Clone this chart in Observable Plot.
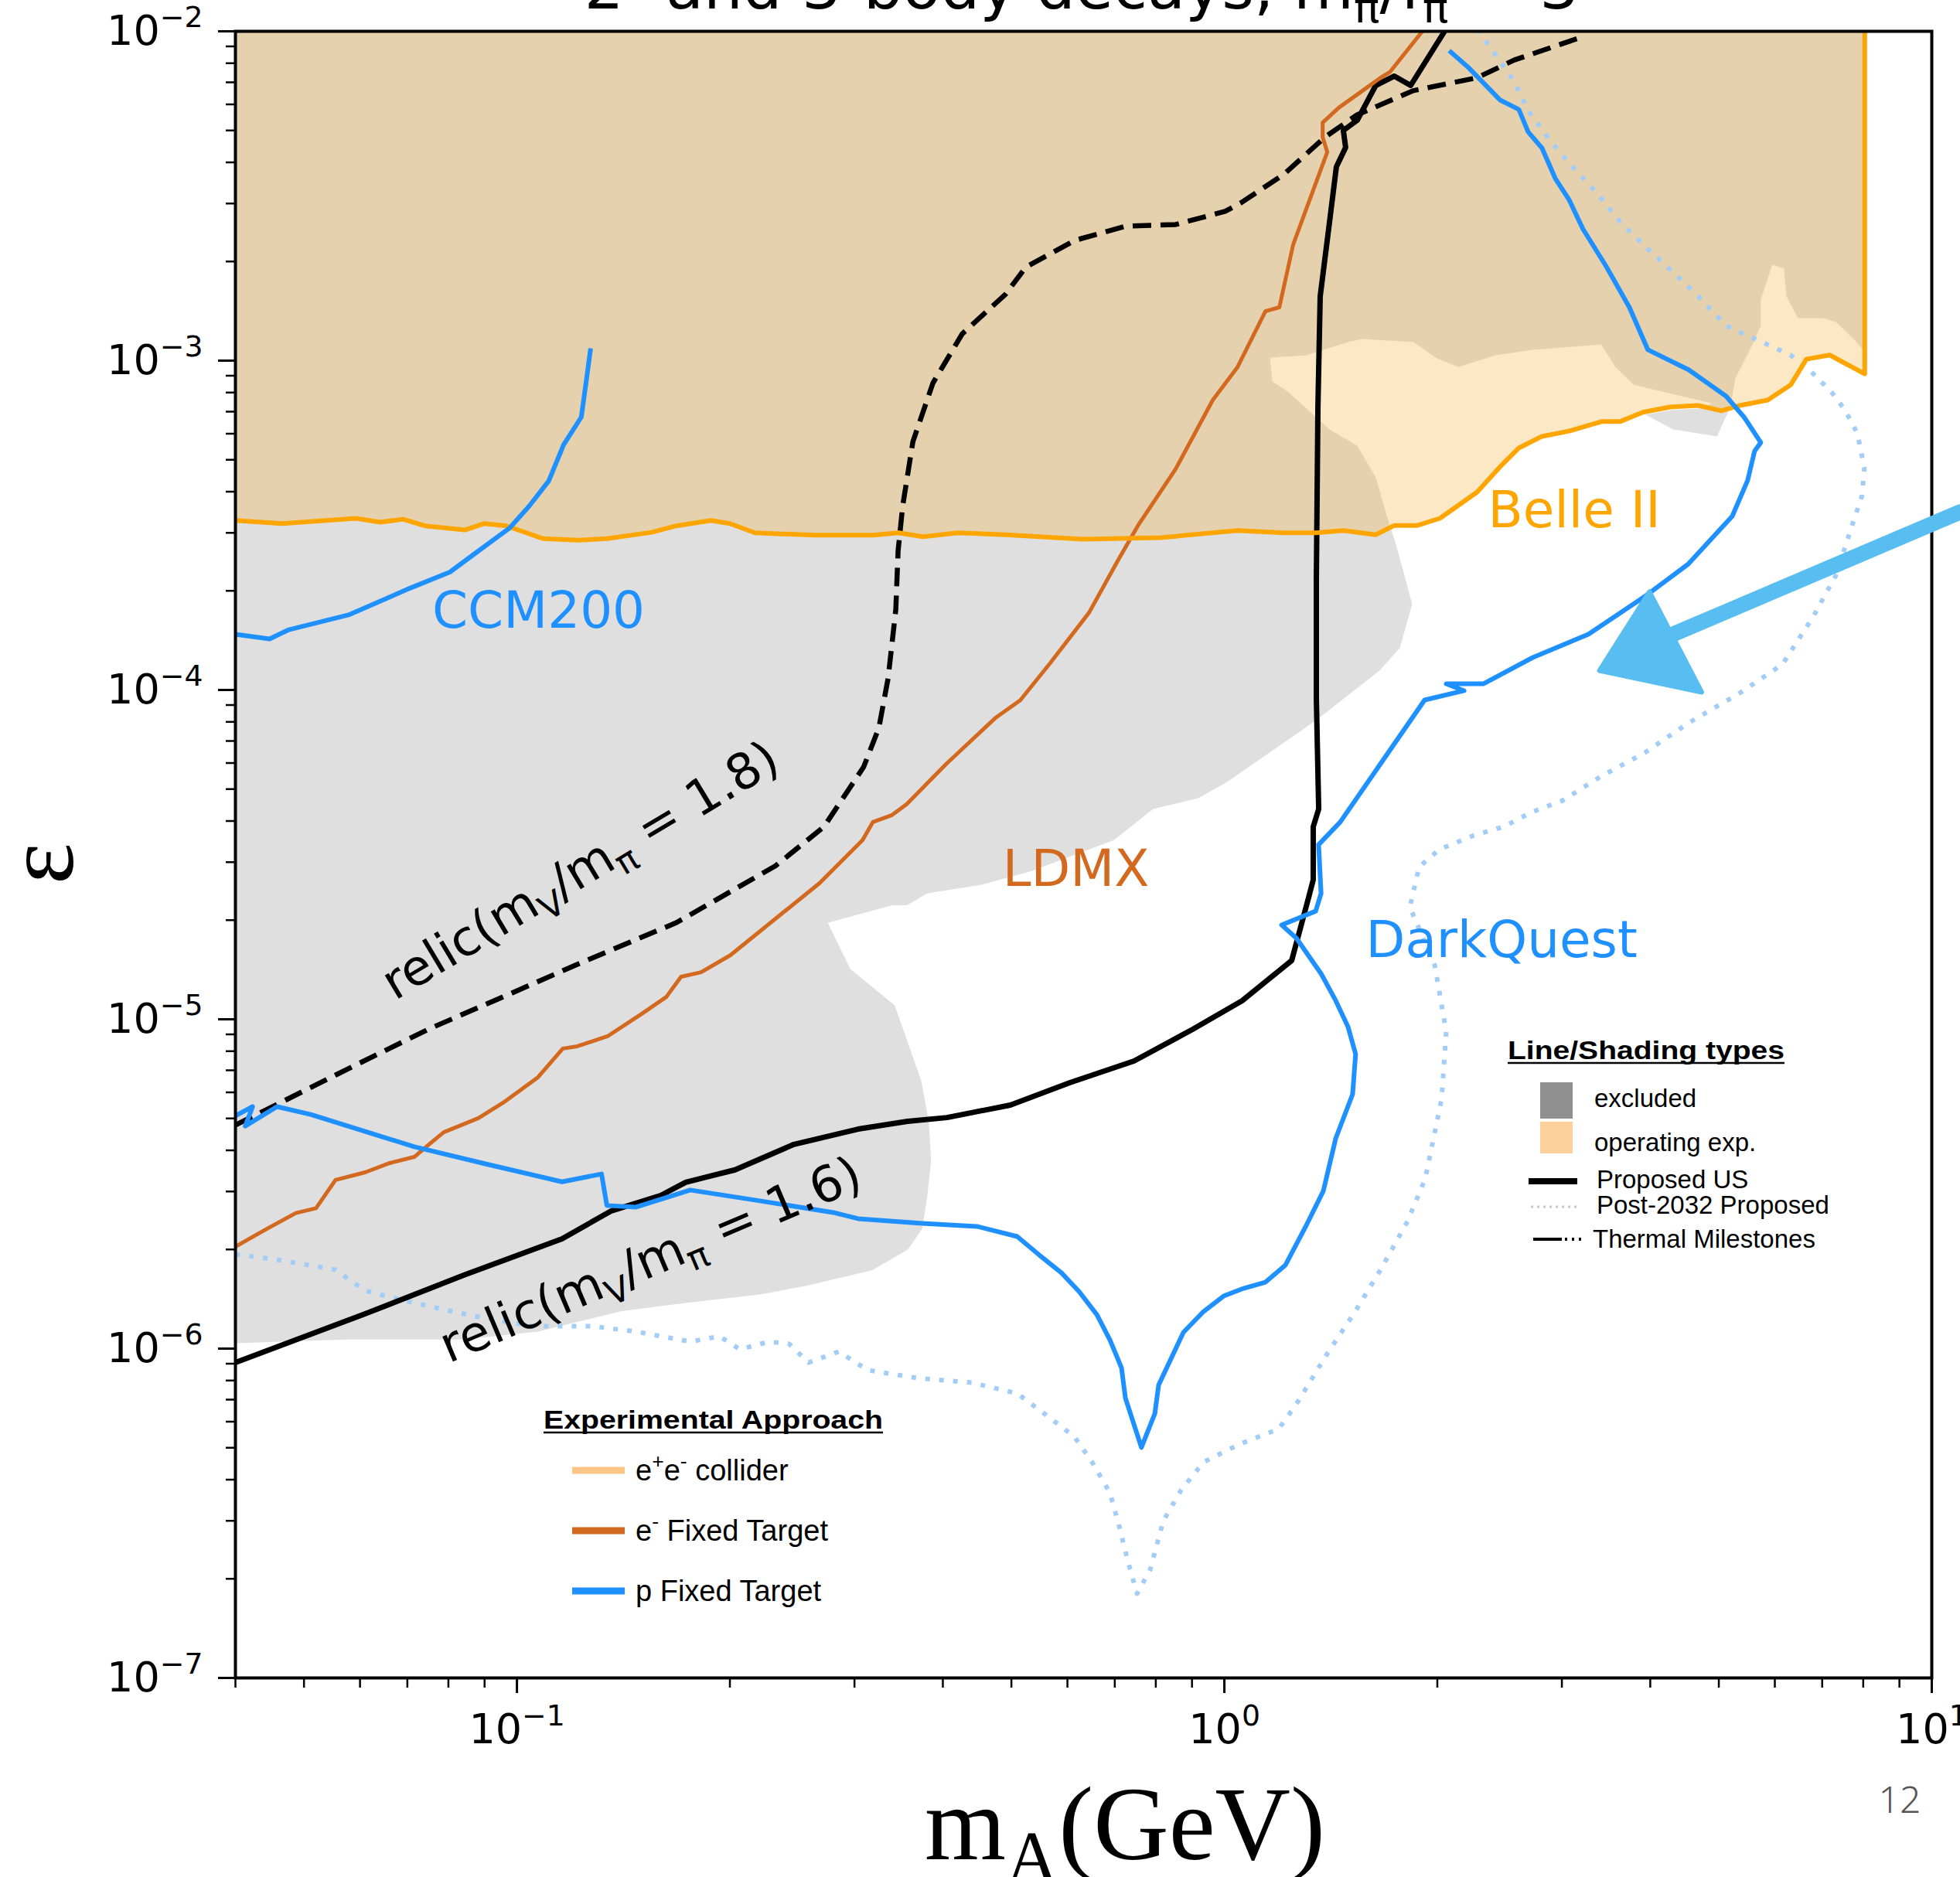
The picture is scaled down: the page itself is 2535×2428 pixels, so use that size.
<!DOCTYPE html>
<html>
<head>
<meta charset="utf-8">
<script src="https://cdn.jsdelivr.net/npm/d3@7"></script>
<script src="https://cdn.jsdelivr.net/npm/@observablehq/plot@0.6"></script>
<style>
  html, body { margin: 0; padding: 0; background: #fff; overflow: hidden; }
  #wrap { position: relative; width: 2535px; height: 2428px; overflow: hidden; background: #fff; }
  #wrap > svg { position: absolute; left: 0; top: 0; }
</style>
</head>
<body>
<div id="wrap"></div>
<script>
// ---------------- DATA (m_A in GeV, epsilon) ----------------
const xDomain = [0.04, 10];
const yDomain = [1e-7, 1e-2];
const xMajor = [0.1, 1, 10];
const xMajorExp = ["−1", "0", "1"];
const xMinor = [0.04,0.05,0.06,0.07,0.08,0.09,0.2,0.3,0.4,0.5,0.6,0.7,0.8,0.9,2,3,4,5,6,7,8,9];
const yMajor = [1e-7, 1e-6, 1e-5, 1e-4, 1e-3, 1e-2];
const yMajorExp = ["−7", "−6", "−5", "−4", "−3", "−2"];
const yMinor = [2e-7,3e-7,4e-7,5e-7,6e-7,7e-7,8e-7,9e-7,2e-6,3e-6,4e-6,5e-6,6e-6,7e-6,8e-6,9e-6,
  2e-5,3e-5,4e-5,5e-5,6e-5,7e-5,8e-5,9e-5,2e-4,3e-4,4e-4,5e-4,6e-4,7e-4,8e-4,9e-4,
  2e-3,3e-3,4e-3,5e-3,6e-3,7e-3,8e-3,9e-3];

// excluded (grey) region outline
const grayM = [0.04,8.03,8.03,7.79,7.33,7.01,6.47,6.23,6.18,5.95,5.73,5.73,5.52,5.28,5.19,4.97,4.31,3.94,4.27,4.68,4.89,3.79,3.57,3.41,2.73,2.42,2.14,1.99,1.85,1.565,1.496,1.306,1.16,1.169,1.232,1.408,1.541,1.637,1.713,1.744,1.843,1.77,1.658,1.349,1.01,0.918,0.793,0.698,0.532,0.453,0.38,0.356,0.339,0.275,0.296,0.342,0.373,0.382,0.385,0.38,0.374,0.357,0.318,0.258,0.2205,0.173,0.1405,0.1071,0.0841,0.0573,0.04];
const grayE = [1e-2,1e-2,1.067e-3,1.151e-3,1.309e-3,1.346e-3,1.346e-3,1.567e-3,1.903e-3,1.954e-3,1.531e-3,1.276e-3,1.067e-3,8.87e-4,7.22e-4,5.89e-4,6.18e-4,6.85e-4,7.08e-4,7.15e-4,7.42e-4,8.45e-4,9.57e-4,1.12e-3,1.078e-3,1.038e-3,9.57e-4,1.021e-3,1.138e-3,1.164e-3,1.138e-3,1.038e-3,1.021e-3,8.65e-4,8.02e-4,6.18e-4,5.52e-4,4.42e-4,3.16e-4,2.82e-4,1.823e-4,1.34e-4,1.146e-4,8.1e-5,5.26e-5,4.69e-5,4.35e-5,3.5e-5,2.81e-5,2.56e-5,2.41e-5,2.22e-5,2.22e-5,1.963e-5,1.421e-5,1.102e-5,6.49e-6,4.9e-6,3.74e-6,2.87e-6,2.31e-6,2.0e-6,1.73e-6,1.556e-6,1.459e-6,1.375e-6,1.3e-6,1.126e-6,1.066e-6,1.066e-6,1.038e-6];

// Belle II (e+e- collider, operating)
const belleM = [0.04,0.0466,0.0592,0.0641,0.069,0.0741,0.0844,0.0898,0.0966,0.109,0.122,0.134,0.155,0.168,0.188,0.2,0.217,0.264,0.319,0.346,0.375,0.42,0.491,0.631,0.812,1.044,1.214,1.346,1.473,1.637,1.739,1.875,2.017,2.277,2.455,2.608,2.812,3.07,3.412,3.624,3.906,4.266,4.675,5.041,5.355,5.863,6.32,6.649,7.172,8.04,8.04];
const belleE = [3.27e-4,3.2e-4,3.32e-4,3.23e-4,3.3e-4,3.15e-4,3.06e-4,3.2e-4,3.15e-4,2.88e-4,2.85e-4,2.88e-4,3.01e-4,3.15e-4,3.27e-4,3.2e-4,3.0e-4,2.95e-4,2.95e-4,3.0e-4,2.92e-4,3.0e-4,2.96e-4,2.87e-4,2.9e-4,3.05e-4,3.0e-4,3.0e-4,3.05e-4,2.96e-4,3.16e-4,3.16e-4,3.32e-4,3.99e-4,4.77e-4,5.43e-4,5.89e-4,6.11e-4,6.53e-4,6.53e-4,6.97e-4,7.23e-4,7.31e-4,7.04e-4,7.31e-4,7.59e-4,8.45e-4,1.01e-3,1.04e-3,9.12e-4,1e-2];

// LDMX (e- fixed target)
const ldmxM = [0.04,0.0443,0.0487,0.052,0.0554,0.061,0.0661,0.0716,0.0751,0.0788,0.0882,0.0956,0.1071,0.1161,0.1217,0.1343,0.15,0.1626,0.1706,0.1821,0.2004,0.2677,0.308,0.3185,0.339,0.3556,0.4044,0.4749,0.5147,0.5664,0.6439,0.7084,0.7545,0.8534,0.963,1.044,1.143,1.196,1.251,1.326,1.398,1.377,1.377,1.451,1.663,1.713,1.905];
const ldmxE = [2.04e-6,2.31e-6,2.58e-6,2.67e-6,3.25e-6,3.43e-6,3.66e-6,3.82e-6,4.17e-6,4.54e-6,5.01e-6,5.58e-6,6.67e-6,8.15e-6,8.28e-6,8.88e-6,1.038e-5,1.169e-5,1.346e-5,1.39e-5,1.566e-5,2.59e-5,3.5e-5,3.97e-5,4.17e-5,4.5e-5,5.96e-5,8.23e-5,9.31e-5,1.202e-4,1.718e-4,2.49e-4,3.15e-4,4.69e-4,7.59e-4,9.57e-4,1.412e-3,1.452e-3,2.25e-3,3.16e-3,4.3e-3,4.77e-3,5.28e-3,5.86e-3,7.23e-3,7.51e-3,1e-2];

// relic (m_V/m_pi = 1.8), dashed
const relic18M = [0.04,0.0583,0.0753,0.0973,0.1217,0.168,0.2318,0.2716,0.309,0.3248,0.3347,0.3432,0.3458,0.351,0.3628,0.3873,0.4263,0.4906,0.524,0.6154,0.7249,0.8534,1.0025,1.0596,1.2137,1.387,1.541,1.848,2.277,2.569,3.19];
const relic18E = [4.77e-6,7.15e-6,9.37e-6,1.189e-5,1.468e-5,1.965e-5,2.92e-5,3.84e-5,5.83e-5,7.67e-5,1.084e-4,1.754e-4,2.65e-4,3.62e-4,5.67e-4,8.55e-4,1.208e-3,1.591e-3,1.923e-3,2.32e-3,2.56e-3,2.59e-3,2.84e-3,3.03e-3,3.68e-3,4.77e-3,5.58e-3,6.6e-3,7.23e-3,8.18e-3,9.58e-3];

// relic (m_V/m_pi = 1.6), solid black
const relic16M = [0.04,0.061,0.0841,0.1158,0.136,0.1598,0.1732,0.2034,0.2463,0.3035,0.3565,0.4054,0.4982,0.6047,0.7451,0.902,1.0596,1.245,1.3154,1.3354,1.3354,1.3594,1.349,1.349,1.356,1.366,1.408,1.44,1.484,1.473,1.541,1.637,1.739,1.834,2.048];
const relic16E = [9.07e-7,1.275e-6,1.671e-6,2.155e-6,2.62e-6,2.92e-6,3.2e-6,3.49e-6,4.17e-6,4.64e-6,4.9e-6,5.03e-6,5.49e-6,6.42e-6,7.47e-6,9.32e-6,1.139e-5,1.508e-5,2.34e-5,2.65e-5,3.84e-5,4.35e-5,9.47e-5,2.154e-4,7.23e-4,1.566e-3,2.63e-3,3.88e-3,4.44e-3,5.0e-3,5.37e-3,6.85e-3,7.31e-3,6.85e-3,1e-2];

// CCM200 (p fixed target)
const ccmM = [0.04,0.0447,0.0476,0.0578,0.0707,0.0804,0.0873,0.0976,0.1041,0.1109,0.1164,0.1233,0.1252,0.1271];
const ccmE = [1.476e-4,1.429e-4,1.524e-4,1.69e-4,2.04e-4,2.28e-4,2.6e-4,3.1e-4,3.62e-4,4.31e-4,5.55e-4,6.74e-4,8.55e-4,1.09e-3];

// DarkQuest (p fixed target)
const dqM = [0.04,0.0423,0.0413,0.0458,0.0511,0.0563,0.0716,0.0912,0.1158,0.1317,0.134,0.1474,0.1758,0.2205,0.28,0.3035,0.3739,0.4471,0.5095,0.5481,0.5883,0.6233,0.6604,0.6893,0.7155,0.7246,0.7634,0.7975,0.8075,0.8752,0.9344,0.9975,1.065,1.143,1.22,1.302,1.38,1.437,1.518,1.533,1.496,1.437,1.37,1.264,1.205,1.346,1.37,1.359,1.458,1.919,2.182,2.059,2.323,2.729,3.27,3.93,4.525,5.223,5.492,5.617,5.731,5.436,5.119,4.536,3.969,3.737,3.465,3.213,3.071,2.935,2.812,2.688,2.608,2.455,2.208,2.079];
const dqE = [5.09e-6,5.43e-6,4.74e-6,5.43e-6,5.14e-6,4.82e-6,4.1e-6,3.62e-6,3.21e-6,3.39e-6,2.72e-6,2.69e-6,3.03e-6,2.81e-6,2.59e-6,2.48e-6,2.4e-6,2.35e-6,2.19e-6,1.92e-6,1.7e-6,1.49e-6,1.268e-6,1.061e-6,8.74e-7,7.08e-7,5.01e-7,6.35e-7,7.76e-7,1.12e-6,1.296e-6,1.444e-6,1.524e-6,1.591e-6,1.793e-6,2.34e-6,3.01e-6,4.35e-6,5.92e-6,7.84e-6,9.47e-6,1.139e-5,1.376e-5,1.764e-5,1.934e-5,2.13e-5,2.41e-5,3.39e-5,3.97e-5,9.32e-5,9.95e-5,1.044e-4,1.044e-4,1.255e-4,1.476e-4,1.923e-4,2.41e-4,3.37e-4,4.33e-4,5.31e-4,5.64e-4,6.71e-4,7.8e-4,9.37e-4,1.079e-3,1.452e-3,1.934e-3,2.51e-3,3.08e-3,3.58e-3,4.42e-3,4.95e-3,5.79e-3,6.18e-3,7.8e-3,8.74e-3];

// Post-2032 proposed (dotted light blue)
const postM = [0.04,0.0458,0.0554,0.061,0.0693,0.0869,0.1052,0.1277,0.1474,0.1758,0.1934,0.2065,0.2273,0.2426,0.2584,0.285,0.3134,0.3683,0.4392,0.5095,0.5635,0.6138,0.6503,0.6893,0.7103,0.7302,0.7526,0.7853,0.8197,0.8687,0.9344,1.049,1.193,1.264,1.401,1.526,1.663,1.816,1.923,2.028,2.059,1.983,1.829,1.885,2.013,2.254,2.48,2.722,3.009,3.404,3.93,4.525,5.33,6.15,6.8,7.32,7.69,7.97,8.03,7.85,7.54,7.22,6.8,6.32,5.69,5.12,4.68,4.22,3.91,3.63,3.36,3.07,2.89,2.69,2.57,2.31,2.29];
const postE = [1.934e-6,1.862e-6,1.736e-6,1.5e-6,1.398e-6,1.255e-6,1.17e-6,1.17e-6,1.126e-6,1.05e-6,1.09e-6,9.95e-7,1.05e-6,1.033e-6,9.07e-7,9.79e-7,8.6e-7,8.14e-7,7.88e-7,7.31e-7,6.22e-7,5.4e-7,4.52e-7,3.64e-7,2.88e-7,2.27e-7,1.803e-7,2.13e-7,3.0e-7,3.72e-7,4.52e-7,5.12e-7,5.7e-7,6.78e-7,9.73e-7,1.282e-6,1.736e-6,2.44e-6,3.28e-6,5.73e-6,9.17e-6,1.46e-5,2.19e-5,2.9e-5,3.28e-5,3.62e-5,3.84e-5,4.26e-5,4.62e-5,5.46e-5,6.45e-5,7.93e-5,9.73e-5,1.196e-4,1.671e-4,2.23e-4,3.09e-4,3.9e-4,4.72e-4,6.01e-4,7.08e-4,8.01e-4,9.12e-4,1.038e-3,1.151e-3,1.275e-3,1.566e-3,1.934e-3,2.25e-3,2.63e-3,3.23e-3,3.99e-3,4.64e-3,5.73e-3,7.04e-3,9.73e-3,1e-2];

// hand-drawn arrow annotation
const arrowShaftM = [10.97, 4.06];
const arrowShaftE = [3.47e-4, 1.398e-4];
const arrowHeadM = [3.99, 3.39, 4.73, 3.99];
const arrowHeadE = [1.987e-4, 1.145e-4, 9.84e-5, 1.987e-4];

// in-plot labels
const labelText = ["CCM200", "Belle II", "LDMX", "DarkQuest"];
const labelM = [0.0759, 2.359, 0.4858, 1.585];
const labelE = [1.736e-4, 3.5e-4, 2.854e-5, 1.736e-5];
const labelColor = ["#1e90ff", "#ffa500", "#d2691e", "#1e90ff"];

const relicParts = [
  [{t:"relic(m"},{t:"V",sub:1},{t:"/m"},{t:"π",sub:1},{t:" = 1.8)"}],
  [{t:"relic(m"},{t:"V",sub:1},{t:"/m"},{t:"π",sub:1},{t:" = 1.6)"}]
];
const relicM = [0.123, 0.1546];
const relicE = [2.823e-5, 1.852e-6];
const relicAngle = [-31, -23];

const titleParts = [{t:"2- and 3-body decays, m"},{t:"π",sub:1},{t:"/f"},{t:"π",sub:1},{t:" = 3"}];
const xLabelParts = [{t:"m"},{t:"A",sub:1},{t:"(GeV)"}];
const yLabelText = "ε";
const shadeLegendTitle = "Line/Shading types";
const shadeLegendLabels = ["excluded", "operating exp."];
const lineLegendLabels = ["Proposed US", "Post-2032 Proposed", "Thermal Milestones"];
const expLegendTitle = "Experimental Approach";
const expLegendLabels = [
  [{t:"e"},{t:"+",sup:1},{t:"e"},{t:"-",sup:1},{t:" collider"}],
  [{t:"e"},{t:"-",sup:1},{t:" Fixed Target"}],
  [{t:"p Fixed Target"}]
];
const expLegendColors = ["#fdc585", "#d2691e", "#1e90ff"];
const pageNumber = "12";

// ---------------- BUILD ----------------
const pts = (ms, es) => ms.map((m, i) => ({m, e: es[i]}));
const grayPoly = pts(grayM, grayE);
const belle = pts(belleM, belleE);
const bellePoly = belle.concat([{m: xDomain[0], e: yDomain[1]}]);

const L = (data, o) => Plot.line(data, {x: "m", y: "e", clip: true, strokeLinejoin: "round", strokeLinecap: "butt", ...o});

const marks = [
  L(grayPoly, {fill: "#dfdfdf", stroke: "none"}),
  L(bellePoly, {fill: "#f8b13a", fillOpacity: 0.29, stroke: "none"}),
  L(pts(postM, postE), {stroke: "#a3cdf6", strokeWidth: 6, strokeDasharray: "6,12"}),
  L(pts(relic16M, relic16E), {stroke: "#000", strokeWidth: 7}),
  L(pts(relic18M, relic18E), {stroke: "#000", strokeWidth: 6.5, strokeDasharray: "24,12"}),
  L(pts(ldmxM, ldmxE), {stroke: "#d2691e", strokeWidth: 5}),
  L(belle, {stroke: "#ffa500", strokeWidth: 6}),
  L(pts(ccmM, ccmE), {stroke: "#1e90ff", strokeWidth: 6}),
  L(pts(dqM, dqE), {stroke: "#1e90ff", strokeWidth: 6}),
];
labelText.forEach((t, i) => {
  marks.push(Plot.text([{m: labelM[i], e: labelE[i], t}], {x: "m", y: "e", text: "t", fill: labelColor[i], fontSize: 66, textAnchor: "start", lineAnchor: "middle"}));
});
const relicJoined = relicParts.map(p => p.map(q => q.t).join(""));
relicJoined.forEach((t, i) => {
  marks.push(Plot.text([{m: relicM[i], e: relicE[i], t}], {x: "m", y: "e", text: "t", fill: "#000", fontSize: 64, rotate: relicAngle[i], textAnchor: "middle", lineAnchor: "middle"}));
});
marks.push(
  Plot.frame({stroke: "#000", strokeWidth: 4}),
  Plot.axisX({ticks: xMajor, tickFormat: d => "10^" + xMajorExp[xMajor.indexOf(d)], tickSize: 20, tickPadding: 26, strokeWidth: 3, fontSize: 54, label: null}),
  Plot.axisX({ticks: xMinor, tickFormat: () => "", tickSize: 13, strokeWidth: 2.5, label: null}),
  Plot.axisY({ticks: yMajor, tickFormat: d => "10^" + yMajorExp[yMajor.indexOf(d)], tickSize: 22, tickPadding: 20, strokeWidth: 3, fontSize: 54, label: null}),
  Plot.axisY({ticks: yMinor, tickFormat: () => "", tickSize: 12, strokeWidth: 2.5, label: null}),
  Plot.line(pts(arrowShaftM, arrowShaftE), {x: "m", y: "e", stroke: "#58bdf0", strokeWidth: 20, strokeLinecap: "round"}),
  Plot.line(pts(arrowHeadM, arrowHeadE), {x: "m", y: "e", fill: "#58bdf0", stroke: "#58bdf0", strokeWidth: 6, strokeLinejoin: "round"})
);

const W = 2535, H = 2428;
const chart = Plot.plot({
  width: W, height: H,
  marginLeft: 304, marginRight: 37, marginTop: 40, marginBottom: 258,
  style: {fontFamily: "DejaVu Sans", fontSize: "54px", background: "#fff", overflow: "visible", color: "#000"},
  x: {type: "log", domain: xDomain},
  y: {type: "log", domain: yDomain},
  marks
});
document.getElementById("wrap").appendChild(chart);

// rich text helper (sub/superscripts)
function mathText(sel, parts, fs) {
  sel.text(null);
  let shift = 0;
  parts.forEach(p => {
    const ts = sel.append("tspan").text(p.t);
    const target = p.sub ? 0.22 * fs : p.sup ? -0.42 * fs : 0;
    const dy = target - shift;
    if (dy !== 0) ts.attr("dy", dy);
    if (p.sub || p.sup) ts.attr("font-size", 0.7 * fs);
    shift = target;
  });
}

// tick labels with superscripts, relic labels with subscripts
d3.select(chart).selectAll("text").each(function() {
  const s = this.textContent;
  const sel = d3.select(this);
  if (s.startsWith("10^")) {
    mathText(sel, [{t: "10"}, {t: s.slice(3), sup: 1}], 54);
  } else {
    const k = relicJoined.indexOf(s);
    if (k >= 0) mathText(sel, relicParts[k], 64);
  }
});

// ---------------- OVERLAY (title, axis labels, legends) ----------------
const ov = d3.select("#wrap").append("svg").attr("width", W).attr("height", H);

mathText(ov.append("text").attr("x", 1399).attr("y", 11).attr("text-anchor", "middle")
  .attr("font-family", "DejaVu Sans").attr("font-size", 80).attr("fill", "#000"), titleParts, 80);

mathText(ov.append("text").attr("x", 1455).attr("y", 2405).attr("text-anchor", "middle")
  .attr("font-family", "Liberation Serif").attr("font-size", 135).attr("fill", "#000"), xLabelParts, 135);

ov.append("text").attr("transform", "translate(94,1117) rotate(-90)").attr("text-anchor", "middle")
  .attr("font-family", "Liberation Serif").attr("font-size", 128).attr("fill", "#000").text(yLabelText);

ov.append("text").attr("x", 2457).attr("y", 2345).attr("text-anchor", "middle")
  .attr("font-family", "Noto Sans").attr("font-weight", 300).attr("font-size", 48).attr("fill", "#555").text(pageNumber);

// Legend: Line/Shading types
const lg = ov.append("g").attr("font-family", "Liberation Sans").attr("fill", "#000");
lg.append("text").attr("x", 1950).attr("y", 1370).attr("font-weight", "bold").attr("font-size", 33)
  .attr("textLength", 358).attr("lengthAdjust", "spacingAndGlyphs").text(shadeLegendTitle);
lg.append("line").attr("x1", 1950).attr("x2", 2308).attr("y1", 1375).attr("y2", 1375).attr("stroke", "#000").attr("stroke-width", 2.5);
lg.append("rect").attr("x", 1992).attr("y", 1400).attr("width", 42).attr("height", 47).attr("fill", "#8f8f8f");
lg.append("rect").attr("x", 1992).attr("y", 1451).attr("width", 42).attr("height", 41).attr("fill", "#fdd09b");
[1432, 1489].forEach((y, i) => lg.append("text").attr("x", 2062).attr("y", y).attr("font-size", 33).text(shadeLegendLabels[i]));
lg.append("line").attr("x1", 1977).attr("x2", 2040).attr("y1", 1528).attr("y2", 1528).attr("stroke", "#000").attr("stroke-width", 8);
lg.append("line").attr("x1", 1980).attr("x2", 2043).attr("y1", 1561).attr("y2", 1561).attr("stroke", "#c8c8c8").attr("stroke-width", 3).attr("stroke-dasharray", "3,5");
lg.append("line").attr("x1", 1983).attr("x2", 2020).attr("y1", 1603).attr("y2", 1603).attr("stroke", "#000").attr("stroke-width", 4);
lg.append("line").attr("x1", 2024).attr("x2", 2046).attr("y1", 1603).attr("y2", 1603).attr("stroke", "#000").attr("stroke-width", 4).attr("stroke-dasharray", "3,6");
[1537, 1570, 1614].forEach((y, i) => lg.append("text").attr("x", i === 2 ? 2060 : 2065).attr("y", y).attr("font-size", 33).text(lineLegendLabels[i]));

// Legend: Experimental Approach
const le = ov.append("g").attr("font-family", "Liberation Sans").attr("fill", "#000");
le.append("text").attr("x", 703).attr("y", 1848).attr("font-weight", "bold").attr("font-size", 33)
  .attr("textLength", 439).attr("lengthAdjust", "spacingAndGlyphs").text(expLegendTitle);
le.append("line").attr("x1", 703).attr("x2", 1142).attr("y1", 1853).attr("y2", 1853).attr("stroke", "#000").attr("stroke-width", 2.5);
[1902, 1980, 2058].forEach((y, i) => {
  le.append("line").attr("x1", 740).attr("x2", 808).attr("y1", y).attr("y2", y).attr("stroke", expLegendColors[i]).attr("stroke-width", 9);
  mathText(le.append("text").attr("x", 822).attr("y", y + 13).attr("font-size", 38), expLegendLabels[i], 38);
});
</script>
</body>
</html>
